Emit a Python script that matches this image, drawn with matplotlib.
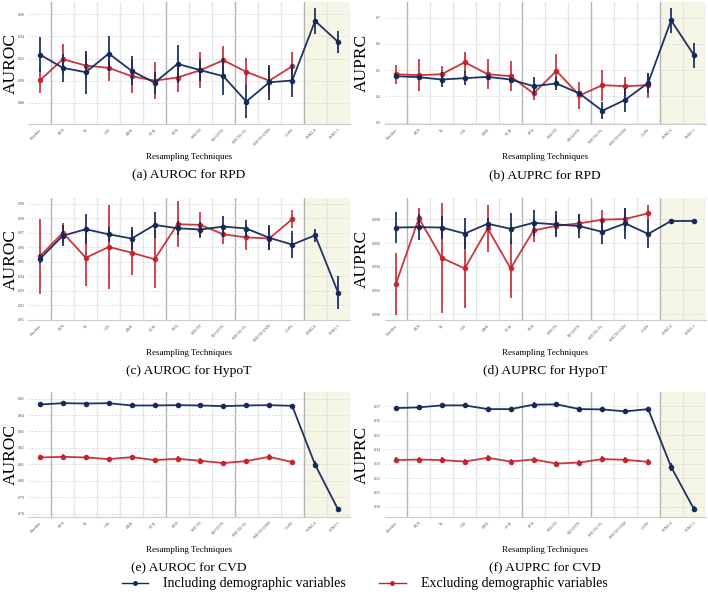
import numpy as np
import matplotlib
matplotlib.use("Agg")
import matplotlib.pyplot as plt
from matplotlib.lines import Line2D

plt.rcParams['font.family'] = ['Liberation Serif', 'DejaVu Serif']

techniques = ['Baseline', 'RUS', 'TL', 'OSS', 'ENN', 'NCR', 'ROS', 'SMOTE',
              'ADASYN', 'SMOTE-TL', 'SMOTE-ENN', 'OUPS', 'PSM2.4', 'PSM1.1']

# (a) AUROC for RPD
rpd_auroc_inc = [0.9236, 0.9116, 0.9077, 0.9245, 0.9089, 0.8983, 0.9152, 0.9095,
                 0.9041, 0.8812, 0.8986, 0.9002, 0.9540, 0.9350]
rpd_auroc_inc_err = [0.016, 0.0126, 0.0195, 0.016, 0.013, 0.010, 0.017, 0.010,
                     0.0166, 0.015, 0.0156, 0.0147, 0.012, 0.0103]
rpd_auroc_exc = [0.9004, 0.9194, 0.9137, 0.9116, 0.9041, 0.9001, 0.9029, 0.9095,
                 0.9185, 0.9080, 0.9001, 0.9130]
rpd_auroc_exc_err = [0.0117, 0.0135, 0.011, 0.012, 0.0147, 0.0164, 0.0128, 0.0164,
                     0.013, 0.0128, 0.012, 0.0125]

# (b) AUPRC for RPD
rpd_auprc_inc = [0.4772, 0.4734, 0.4646, 0.4696, 0.4747, 0.4646, 0.4392, 0.4494,
                 0.4114, 0.3456, 0.3873, 0.4519, 0.6900, 0.5570]
rpd_auprc_inc_err = [0.012, 0.010, 0.030, 0.026, 0.010, 0.010, 0.035, 0.025,
                     0.010, 0.033, 0.045, 0.038, 0.048, 0.048]
rpd_auprc_exc = [0.4848, 0.4810, 0.4848, 0.5304, 0.4848, 0.4772, 0.4114, 0.4975,
                 0.4038, 0.4430, 0.4392, 0.4430]
rpd_auprc_exc_err = [0.036, 0.060, 0.030, 0.040, 0.057, 0.058, 0.024, 0.065,
                     0.052, 0.059, 0.036, 0.048]

# (c) AUROC for HypoT
hyp_auroc_inc = [0.9520, 0.9680, 0.9724, 0.9689, 0.9660, 0.9754, 0.9731, 0.9722,
                 0.9743, 0.9729, 0.9665, 0.9618, 0.9682, 0.9287]
hyp_auroc_inc_err = [0.003, 0.007, 0.0105, 0.005, 0.0078, 0.009, 0.005, 0.005,
                     0.007, 0.0056, 0.0085, 0.0094, 0.0045, 0.0115]
hyp_auroc_exc = [0.9538, 0.9700, 0.9527, 0.9602, 0.9562, 0.9517, 0.9759, 0.9754,
                 0.9689, 0.9668, 0.9660, 0.9794]
hyp_auroc_exc_err = [0.026, 0.0066, 0.0195, 0.029, 0.0155, 0.020, 0.016, 0.009,
                     0.007, 0.0086, 0.008, 0.006]

# (d) AUPRC for HypoT
hyp_auprc_inc = [0.99731, 0.99734, 0.99731, 0.99680, 0.99763, 0.99720, 0.99771, 0.99757,
                 0.99743, 0.99694, 0.99766, 0.99677, 0.99786, 0.99786]
hyp_auprc_inc_err = [0.00128, 0.0011, 0.0010, 0.00129, 0.0005, 0.0013, 0.0011, 0.0011,
                     0.0010, 0.00105, 0.0013, 0.0012, 0.0002, 0.0002]
hyp_auprc_exc = [0.99257, 0.99809, 0.99474, 0.99386, 0.99723, 0.99386, 0.99706, 0.99746,
                 0.99766, 0.99797, 0.99803, 0.99851]
hyp_auprc_exc_err = [0.0026, 0.0009, 0.0046, 0.0033, 0.0020, 0.0025, 0.0010, 0.0009,
                     0.0008, 0.0008, 0.0009, 0.0007]

# (e) AUROC for CVD
cvd_auroc_inc = [0.8464, 0.8472, 0.8470, 0.8472, 0.8458, 0.8458, 0.8460, 0.8458,
                 0.8454, 0.8458, 0.8460, 0.8456, 0.8098, 0.7826]
cvd_auroc_inc_err = [0.0006] * 12 + [0.002, 0.0015]
cvd_auroc_exc = [0.8142, 0.8146, 0.8142, 0.8132, 0.8144, 0.8126, 0.8134, 0.8122,
                 0.8108, 0.8120, 0.8146, 0.8114]
cvd_auroc_exc_err = [0.0015] * 12

# (f) AUPRC for CVD
cvd_auprc_inc = [0.3688, 0.3693, 0.3707, 0.3707, 0.3681, 0.3681, 0.3712, 0.3714,
                 0.3681, 0.3679, 0.3665, 0.3681, 0.3279, 0.2984]
cvd_auprc_inc_err = [0.0015] * 12 + [0.003, 0.002]
cvd_auprc_exc = [0.3326, 0.3330, 0.3326, 0.3316, 0.3342, 0.3316, 0.3330, 0.3302,
                 0.3309, 0.3333, 0.3328, 0.3314]
cvd_auprc_exc_err = [0.002] * 12

panels = [
    ('(a) AUROC for RPD', 'AUROC', rpd_auroc_inc, rpd_auroc_inc_err, rpd_auroc_exc, rpd_auroc_exc_err,
     (0.861, 0.971), [0.88, 0.90, 0.92, 0.94, 0.96], '%.2f'),
    ('(b) AUPRC for RPD', 'AUPRC', rpd_auprc_inc, rpd_auprc_inc_err, rpd_auprc_exc, rpd_auprc_exc_err,
     (0.295, 0.76), [0.3, 0.4, 0.5, 0.6, 0.7], '%.1f'),
    ('(c) AUROC for HypoT', 'AUROC', hyp_auroc_inc, hyp_auroc_inc_err, hyp_auroc_exc, hyp_auroc_exc_err,
     (0.9097, 0.994), [0.91, 0.92, 0.93, 0.94, 0.95, 0.96, 0.97, 0.98, 0.99], '%.2f'),
    ('(d) AUPRC for HypoT', 'AUPRC', hyp_auprc_inc, hyp_auprc_inc_err, hyp_auprc_exc, hyp_auprc_exc_err,
     (0.98951, 0.9998), [0.990, 0.992, 0.994, 0.996, 0.998], '%.3f'),
    ('(e) AUROC for CVD', 'AUROC', cvd_auroc_inc, cvd_auroc_inc_err, cvd_auroc_exc, cvd_auroc_exc_err,
     (0.778, 0.854), [0.78, 0.79, 0.80, 0.81, 0.82, 0.83, 0.84, 0.85], '%.2f'),
    ('(f) AUPRC for CVD', 'AUPRC', cvd_auprc_inc, cvd_auprc_inc_err, cvd_auprc_exc, cvd_auprc_exc_err,
     (0.293, 0.380), [0.30, 0.31, 0.32, 0.33, 0.34, 0.35, 0.36, 0.37], '%.2f'),
]

NAVY = '#14295a'
RED = '#c4222b'

fig = plt.figure(figsize=(7.08, 6.01), dpi=100)
W, H = 708.0, 601.0
lefts = [28.5, 384.5]
tops = [2, 198, 392]
bottoms = [124, 320, 517]
ylab_off = [-10.0, -14.5]
AW = 321.0

x = np.arange(len(techniques))
for i, (title, ylab, inc, inc_err, exc, exc_err, ylim, yticks, fmt) in enumerate(panels):
    r, c = divmod(i, 2)
    ah = bottoms[r] - tops[r]
    ax = fig.add_axes([lefts[c] / W, 1 - bottoms[r] / H, AW / W, ah / H])
    ax.axvspan(11.5, 13.5, color='#f6f6e7', zorder=0)
    for xv in np.arange(0.5, 13.5, 1.0):
        if xv in (0.5, 5.5, 8.5, 11.5):
            ax.axvline(xv, color='#b4b4b4', lw=1.0, zorder=1)
        else:
            ax.axvline(xv, color='#e6e6e6', lw=1.0, zorder=1)
    for yv in yticks:
        ax.axhline(yv, color='#d6d6d6', lw=0.6, ls=(0, (2, 2)), zorder=1)

    ax.errorbar(x[:len(exc)], exc, yerr=exc_err, color=RED, ecolor=RED, lw=1.3,
                elinewidth=1.3, marker='o', ms=3, capsize=0, alpha=0.9, zorder=3)
    ax.errorbar(x, inc, yerr=inc_err, color=NAVY, ecolor=NAVY, lw=1.3,
                elinewidth=1.3, marker='o', ms=3, capsize=0, alpha=0.95, zorder=4)

    ax.set_xlim(-0.5, 13.5)
    ax.set_ylim(*ylim)
    ax.set_yticks(yticks)
    ax.set_yticklabels([fmt % v for v in yticks])
    ax.set_xticks(x)
    ax.set_xticklabels(techniques, rotation=45, ha='right', rotation_mode='anchor')
    ax.tick_params(axis='both', length=0, labelsize=3.0, colors='#555555', pad=2.5)
    for s in ['top', 'right', 'left']:
        ax.spines[s].set_visible(False)
    ax.spines['bottom'].set_color('#cccccc')
    ax.spines['bottom'].set_linewidth(0.8)
    ax.set_xlabel('Resampling Techniques', fontsize=6.5)
    ax.xaxis.set_label_coords(0.5, -29.0 / ah)
    ax.set_ylabel(ylab, fontsize=12.5)
    ax.yaxis.set_label_coords(ylab_off[c] / AW, 0.5)
    cx = (lefts[c] + 160) / W
    fig.text(cx, 1 - (bottoms[r] + 51) / H, title, ha='center', va='center', fontsize=9.7)

handles = [Line2D([], [], color=NAVY, lw=1.0, marker='o', ms=2.5),
           Line2D([], [], color=RED, lw=1.0, marker='o', ms=2.5)]
labels = ['Including demographic variables', 'Excluding demographic variables']
fig.legend(handles, labels, loc='center', ncol=2,
           bbox_to_anchor=(0.515, 1 - 584 / H), frameon=False, fontsize=10,
           handlelength=1.9, handletextpad=1.1, columnspacing=2.4)

fig.savefig('out.png', dpi=100)
